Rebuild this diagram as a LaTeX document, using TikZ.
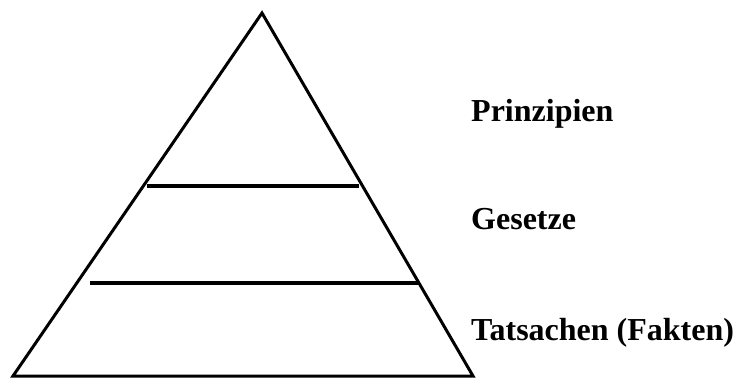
\documentclass[tikz,border=0pt]{standalone}
\usepackage{fontspec}
\setmainfont{Liberation Serif}
\tikzset{
  edge/.style={line width=3pt, line join=miter},
  levelline/.style={line width=4pt},
  levellabel/.style={anchor=base west, inner sep=0pt, font=\fontsize{32}{36}\selectfont\bfseries}
}
\begin{document}
\begin{tikzpicture}[x=1pt,y=-1pt]
\useasboundingbox (0,0) rectangle (738,378);
\coordinate (top) at (262,13);
\coordinate (bl) at (13,376);
\coordinate (br) at (473,376);
\draw[edge] (bl) -- (top) -- (br) -- cycle;
\draw[levelline] (147,186) -- (359,186);
\draw[levelline] (90,283) -- (418,283);
\node[levellabel] (prinzipien) at (471,121) {Prinzipien};
\node[levellabel] (gesetze) at (471,229) {Gesetze};
\node[levellabel] (tatsachen) at (471,340) {Tatsachen (Fakten)};
\end{tikzpicture}
\end{document}
